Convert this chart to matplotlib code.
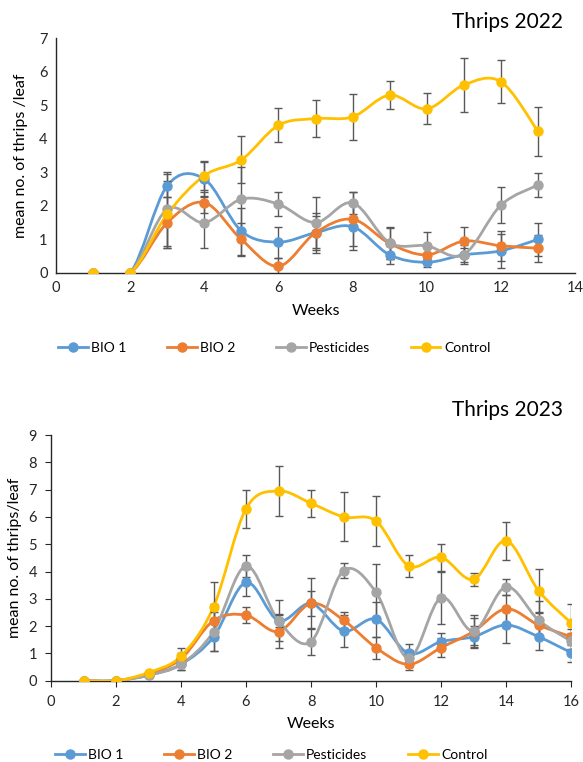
import numpy as np
import matplotlib
matplotlib.use("Agg")
import matplotlib.pyplot as plt
from matplotlib.path import Path
from matplotlib.patches import PathPatch
from matplotlib.lines import Line2D

plt.rcParams['font.family'] = ['Lato', 'DejaVu Sans']

# ---------------- data ----------------
series_names = ["BIO 1", "BIO 2", "Pesticides", "Control"]
colors = ["#5B9BD5", "#ED7D31", "#A5A5A5", "#FFC000"]

weeks_2022 = [1, 2, 3, 4, 5, 6, 7, 8, 9, 10, 11, 12, 13]
bio1_2022 = [0, 0, 2.6, 2.8, 1.25, 0.92, 1.2, 1.38, 0.54, 0.32, 0.54, 0.66, 1.0]
bio2_2022 = [0, 0, 1.5, 2.1, 1.0, 0.2, 1.2, 1.6, 0.88, 0.54, 0.95, 0.81, 0.74]
pest_2022 = [0, 0, 1.9, 1.5, 2.2, 2.05, 1.5, 2.09, 0.9, 0.81, 0.55, 2.02, 2.62]
ctrl_2022 = [0, 0, 1.75, 2.9, 3.37, 4.4, 4.6, 4.65, 5.3, 4.89, 5.6, 5.7, 4.22]
bio1_err_2022 = [0, 0, 0.35, 0.5, 0.7, 0.46, 0.5, 0.7, 0.27, 0.15, 0.2, 0.5, 0.48]
bio2_err_2022 = [0, 0, 0.75, 0.3, 0.5, 0.26, 0.6, 0.8, 0.45, 0.25, 0.43, 0.45, 0.4]
pest_err_2022 = [0, 0, 1.1, 0.75, 0.95, 0.35, 0.75, 0.33, 0.48, 0.4, 0.28, 0.53, 0.35]
ctrl_err_2022 = [0, 0, 1.0, 0.43, 0.7, 0.51, 0.55, 0.68, 0.42, 0.46, 0.8, 0.63, 0.73]

weeks_2023 = [1, 2, 3, 4, 5, 6, 7, 8, 9, 10, 11, 12, 13, 14, 15, 16]
bio1_2023 = [0, 0, 0.2, 0.6, 1.6, 3.6, 2.2, 2.83, 1.82, 2.25, 1.0, 1.43, 1.61, 2.04, 1.61, 1.03]
bio2_2023 = [0, 0, 0.25, 0.8, 2.2, 2.4, 1.8, 2.83, 2.22, 1.21, 0.6, 1.21, 1.8, 2.63, 2.04, 1.61]
pest_2023 = [0, 0, 0.2, 0.6, 1.8, 4.2, 2.2, 1.43, 4.03, 3.24, 0.82, 3.04, 1.82, 3.44, 2.22, 1.45]
ctrl_2023 = [0, 0, 0.3, 0.9, 2.7, 6.3, 6.95, 6.5, 6.0, 5.85, 4.21, 4.52, 3.71, 5.13, 3.3, 2.12]
bio1_err_2023 = [0, 0, 0.05, 0.2, 0.5, 0.5, 0.25, 0.95, 0.6, 0.65, 0.33, 0.3, 0.4, 0.65, 0.5, 0.35]
bio2_err_2023 = [0, 0, 0.05, 0.2, 0.6, 0.3, 0.6, 0.45, 0.3, 0.4, 0.2, 0.35, 0.5, 0.5, 0.45, 0.3]
pest_err_2023 = [0, 0, 0.05, 0.2, 0.7, 0.4, 0.75, 0.5, 0.27, 1.03, 0.3, 0.95, 0.6, 0.3, 0.7, 0.3]
ctrl_err_2023 = [0, 0, 0.05, 0.3, 0.9, 0.7, 0.9, 0.5, 0.9, 0.9, 0.4, 0.5, 0.25, 0.7, 0.8, 0.7]

data_2022 = [bio1_2022, bio2_2022, pest_2022, ctrl_2022]
err_2022 = [bio1_err_2022, bio2_err_2022, pest_err_2022, ctrl_err_2022]
data_2023 = [bio1_2023, bio2_2023, pest_2023, ctrl_2023]
err_2023 = [bio1_err_2023, bio2_err_2023, pest_err_2023, ctrl_err_2023]


def smooth_path(x, y):
    x = np.asarray(x, float)
    y = np.asarray(y, float)
    pts = np.column_stack([x, y])
    n = len(pts)
    verts = [pts[0]]
    codes = [Path.MOVETO]
    for i in range(n - 1):
        p0 = pts[i - 1] if i > 0 else pts[i]
        p1 = pts[i]
        p2 = pts[i + 1]
        p3 = pts[i + 2] if i + 2 < n else pts[i + 1]
        c1 = p1 + (p2 - p0) / 6.0
        c2 = p2 - (p3 - p1) / 6.0
        verts += [c1, c2, p2]
        codes += [Path.CURVE4] * 3
    return Path(verts, codes)


def draw_panel(ax, weeks, data, errs, xmax, ymax, ticks_out):
    for vals, e, c in zip(data, errs, colors):
        ax.add_patch(PathPatch(smooth_path(weeks, vals), fill=False,
                               edgecolor=c, lw=2.0, zorder=3))
        ax.errorbar(weeks, vals, yerr=e, fmt='none', ecolor='#595959',
                    elinewidth=1.0, capsize=3, capthick=1.0, zorder=4)
        ax.plot(weeks, vals, 'o', color=c, markersize=6.5, zorder=5)
    ax.set_xlim(0, xmax)
    ax.set_ylim(0, ymax)
    ax.set_xticks(np.arange(0, xmax + 1, 2))
    ax.set_yticks(np.arange(0, ymax + 1, 1))
    for s in ['top', 'right']:
        ax.spines[s].set_visible(False)
    for s in ['left', 'bottom']:
        ax.spines[s].set_color('#262626')
        ax.spines[s].set_linewidth(1.0)
    ax.tick_params(axis='both', labelsize=10.5, colors='#262626',
                   length=4 if ticks_out else 0, direction='out', pad=6)
    for lab in ax.get_xticklabels() + ax.get_yticklabels():
        lab.set_color('#262626')


fig = plt.figure(figsize=(5.83, 7.62), dpi=100)

# top panel
ax1 = fig.add_axes([56 / 583, 1 - 273 / 762, 519 / 583, 235 / 762])
draw_panel(ax1, weeks_2022, data_2022, err_2022, 14, 7, ticks_out=False)
ax1.set_ylabel("mean no. of thrips /leaf", fontsize=11.5, labelpad=8)
ax1.set_xlabel("Weeks", fontsize=11.5, labelpad=6)
fig.text(563 / 583, 1 - 22 / 762, "Thrips 2022", fontsize=15, ha='right', va='center')

# bottom panel
ax2 = fig.add_axes([51 / 583, 1 - 680.7 / 762, 520 / 583, 245.7 / 762])
draw_panel(ax2, weeks_2023, data_2023, err_2023, 16, 9, ticks_out=True)
ax2.set_ylabel("mean no. of thrips/leaf", fontsize=11.5, labelpad=5)
ax2.set_xlabel("Weeks", fontsize=11.5, labelpad=6)
fig.text(563 / 583, 1 - 410 / 762, "Thrips 2023", fontsize=15, ha='right', va='center')

handles = [Line2D([0], [0], color=c, lw=2.0, marker='o', markersize=6.5)
           for c in colors]
for xpos, ypos in [(0.47, 1 - 348 / 762), (0.465, 1 - 755 / 762)]:
    fig.legend(handles, series_names, loc='center', ncol=4,
               bbox_to_anchor=(xpos, ypos), frameon=False, fontsize=10,
               handlelength=2.15, handletextpad=0.25, columnspacing=2.9,
               borderpad=0.1)

fig.savefig("out.png", dpi=100)
